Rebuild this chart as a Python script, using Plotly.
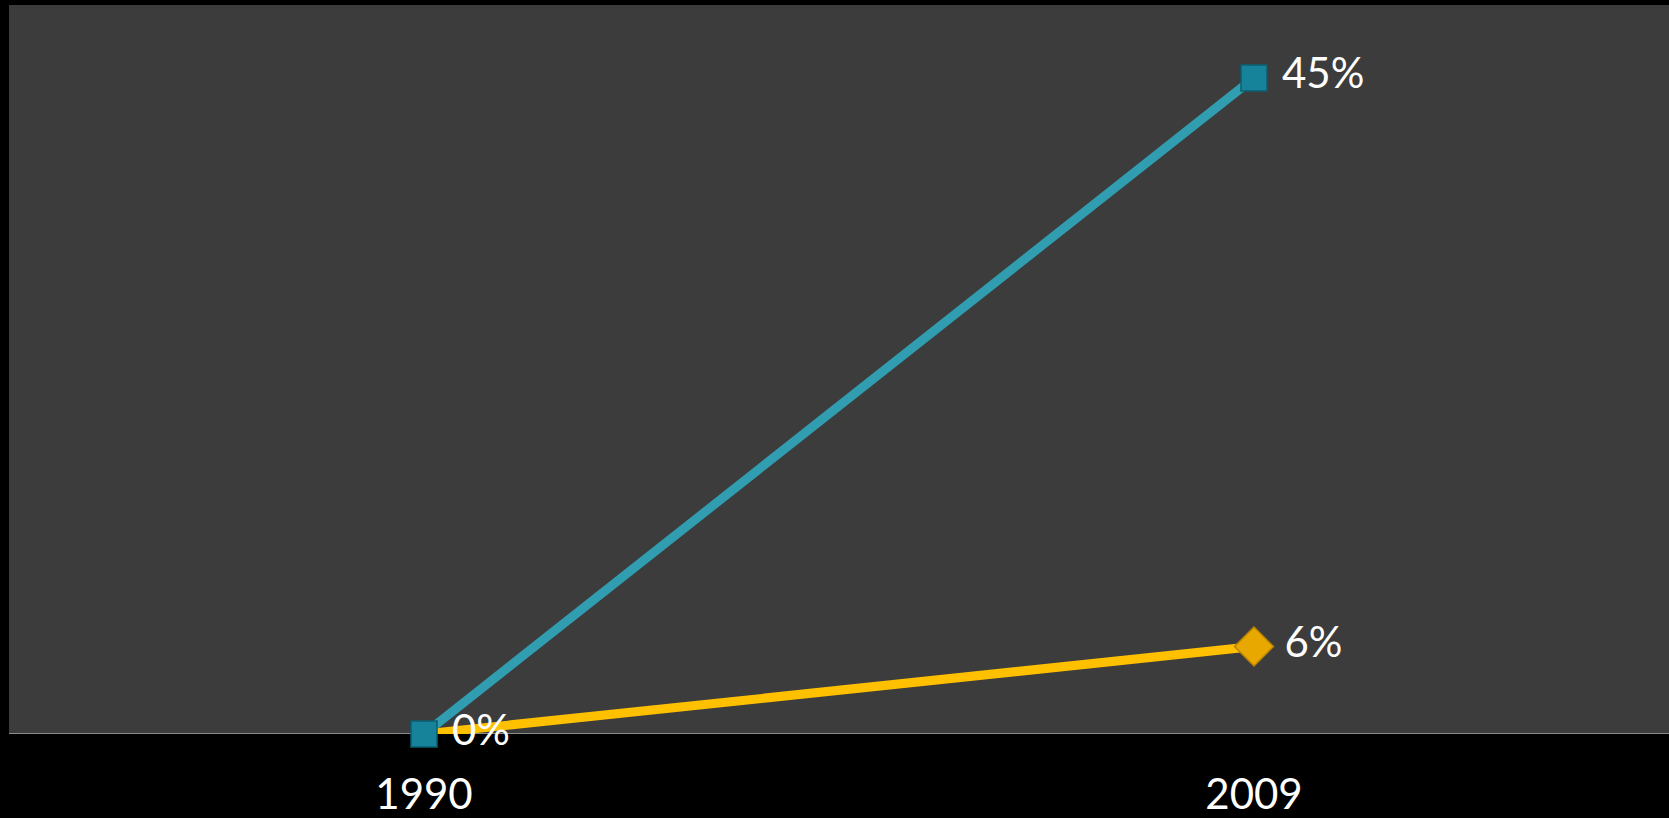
import plotly.graph_objects as go

years = ["1990", "2009"]
series_a = [0, 45]   # teal
series_b = [0, 6]    # yellow
labels_a = [" 0%", " 45%"]
labels_b = ["", " 6%"]

FONT = "Lato"

fig = go.Figure()
fig.add_trace(go.Scatter(
    x=years, y=series_b, mode="lines+markers+text",
    line=dict(color="#FFC000", width=9),
    marker=dict(symbol="diamond", size=[0, 30], color="#E8A800", opacity=1,
                line=dict(color="#B88400", width=1.5)),
    text=labels_b, textposition="middle right",
    textfont=dict(color="white", size=42, family=FONT),
    cliponaxis=False, showlegend=False, hoverinfo="skip"))
fig.add_trace(go.Scatter(
    x=years, y=series_a, mode="lines+markers+text",
    line=dict(color="#319DB0", width=9),
    marker=dict(symbol="square", size=26, color="#17839B", opacity=1,
                line=dict(color="#0D5E70", width=1.5)),
    text=labels_a, textposition="middle right",
    textfont=dict(color="white", size=42, family=FONT),
    cliponaxis=False, showlegend=False, hoverinfo="skip"))

fig.update_layout(
    width=1669, height=818,
    margin=dict(l=9, r=0, t=5, b=80),
    paper_bgcolor="#000000", plot_bgcolor="#3C3C3C",
    xaxis=dict(type="category", range=[-0.5, 1.5], showgrid=False,
               zeroline=False, showline=False, ticks="",
               ticklabelstandoff=32,
               tickfont=dict(color="white", size=42, family=FONT)),
    yaxis=dict(range=[0, 50], showgrid=False, zeroline=False,
               showline=False, showticklabels=False, ticks=""),
    shapes=[dict(type="line", xref="paper", yref="y", x0=0, x1=1, y0=0, y1=0,
                 line=dict(color="#8A8A8A", width=2), layer="below")],
)
fig.write_html("out.html",
               config={"displayModeBar": False},
               post_script="document.body.style.margin='0';"
                           "document.body.style.background='#000';"
                           "document.body.style.overflow='hidden';")
